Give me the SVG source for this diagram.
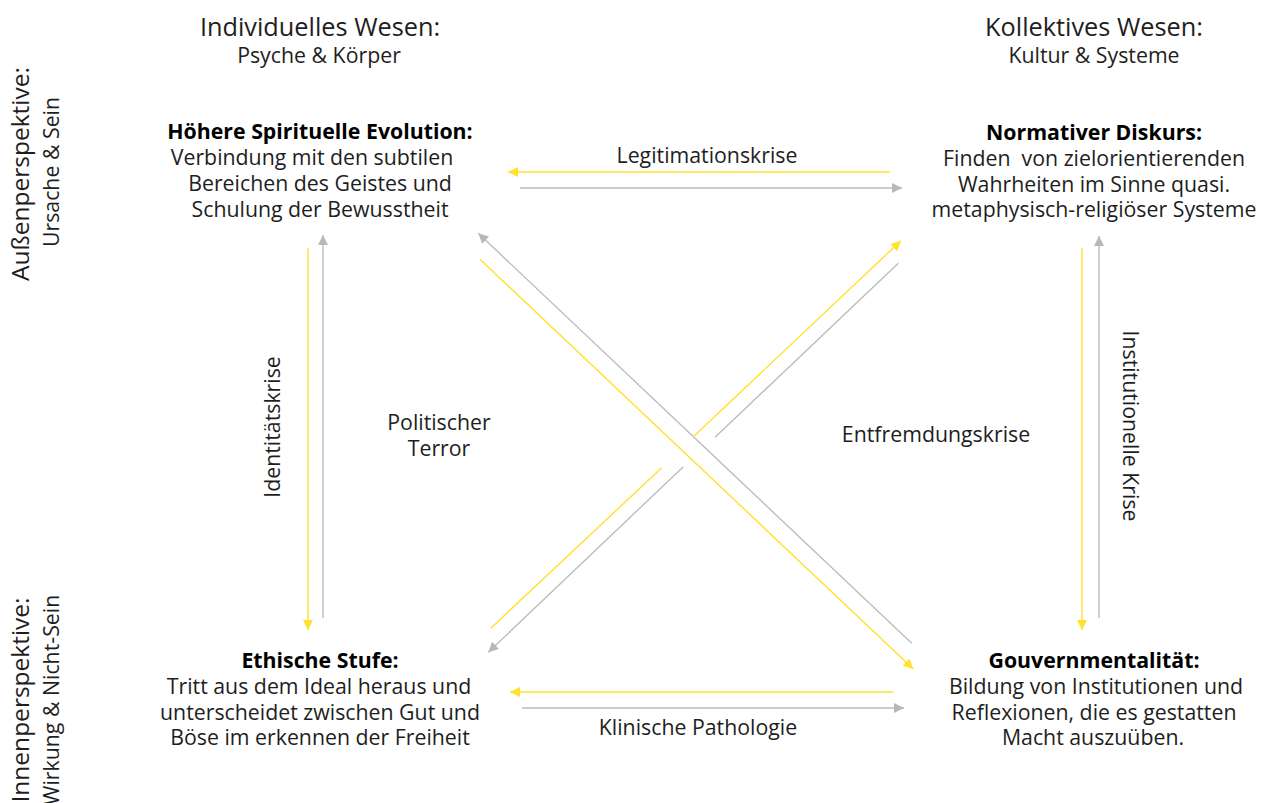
<svg xmlns="http://www.w3.org/2000/svg" width="1261" height="803" viewBox="0 0 1261 803">
<defs>
<style>
text{font-family:"Open Sans","Noto Sans","DejaVu Sans",sans-serif;fill:#1e1e1e;text-anchor:middle;white-space:pre}
.h1{font-size:25.3px}
.s1{font-size:24.5px}
.h2{font-size:21.3px}
.t{font-size:21.3px}
.b{font-weight:bold;fill:#000}
.y{stroke:#FFE12E;stroke-width:1.4;fill:none}
.g{stroke:#BDBDBD;stroke-width:1.4;fill:none}
.ya{marker-end:url(#ay)}
.ga{marker-end:url(#ag)}
</style>
<marker id="ay" viewBox="0 0 10 10" refX="10" refY="5" markerWidth="11" markerHeight="10" markerUnits="userSpaceOnUse" orient="auto"><path d="M0,0L10,5L0,10z" fill="#FFE12E"/></marker>
<marker id="ag" viewBox="0 0 10 10" refX="10" refY="5" markerWidth="11" markerHeight="10" markerUnits="userSpaceOnUse" orient="auto"><path d="M0,0L10,5L0,10z" fill="#B8B8B8"/></marker>
</defs>
<rect width="1261" height="803" fill="#fff"/>
<g id="headers">
<text class="h1" x="320" y="36">Individuelles Wesen:</text>
<text class="h2" x="319" y="63">Psyche &amp; Körper</text>
<text class="h1" x="1094" y="36">Kollektives Wesen:</text>
<text class="h2" x="1094" y="63">Kultur &amp; Systeme</text>
<text class="s1" transform="translate(29,174) rotate(-90)">Außenperspektive:</text>
<text class="h2" transform="translate(59,172) rotate(-90)">Ursache &amp; Sein</text>
<text class="s1" transform="translate(29,700) rotate(-90)">Innenperspektive:</text>
<text class="h2" transform="translate(59,700) rotate(-90)">Wirkung &amp; Nicht-Sein</text>
</g>
<g id="node-spirit">
<text class="t b" x="320" y="139">Höhere Spirituelle Evolution:</text>
<text class="t" x="312" y="165">Verbindung mit den subtilen</text>
<text class="t" x="320" y="191">Bereichen des Geistes und</text>
<text class="t" x="320" y="217">Schulung der Bewusstheit</text>
</g>
<g id="node-diskurs">
<text class="t b" x="1094" y="140">Normativer Diskurs:</text>
<text class="t" x="1094" y="166">Finden  von zielorientierenden</text>
<text class="t" x="1094" y="192">Wahrheiten im Sinne quasi.</text>
<text class="t" x="1094" y="217">metaphysisch-religiöser Systeme</text>
</g>
<g id="node-ethik">
<text class="t b" x="320" y="668">Ethische Stufe:</text>
<text class="t" x="319" y="694">Tritt aus dem Ideal heraus und</text>
<text class="t" x="320" y="720">unterscheidet zwischen Gut und</text>
<text class="t" x="320" y="745">Böse im erkennen der Freiheit</text>
</g>
<g id="node-gouv">
<text class="t b" x="1094" y="668">Gouvernmentalität:</text>
<text class="t" x="1096" y="694">Bildung von Institutionen und</text>
<text class="t" x="1094" y="720">Reflexionen, die es gestatten</text>
<text class="t" x="1093" y="745">Macht auszuüben.</text>
</g>
<g id="connectors">
<line class="y ya" x1="890" y1="172" x2="508" y2="172"/>
<line class="g ga" x1="520" y1="188" x2="902" y2="188"/>
<line class="y ya" x1="893" y1="692" x2="510" y2="692"/>
<line class="g ga" x1="522" y1="708" x2="904" y2="708"/>
<line class="y ya" x1="308" y1="248" x2="308" y2="630"/>
<line class="g ga" x1="323" y1="618" x2="323" y2="235"/>
<line class="y ya" x1="1082" y1="248" x2="1082" y2="630"/>
<line class="g ga" x1="1099" y1="618" x2="1099" y2="236"/>
<path class="y ya" d="M480,259.3L913.3,669"/>
<path class="g ga" d="M911.7,643.3L478.3,233.3"/>
<path class="y ya" d="M490.7,628.3L661.7,467.7M693.3,436.7L901,240.7"/>
<path class="g ga" d="M898.3,263.3L715,437.3M683.3,466.7L488.3,652.3"/>
</g>
<g id="edge-labels">
<text class="t" x="707" y="163">Legitimationskrise</text>
<text class="t" x="698" y="735">Klinische Pathologie</text>
<text class="t" x="439" y="430">Politischer</text>
<text class="t" x="439" y="456">Terror</text>
<text class="t" x="936" y="442">Entfremdungskrise</text>
<text class="t" transform="translate(280,427) rotate(-90)">Identitätskrise</text>
<text class="t" transform="translate(1123,426) rotate(90)">Institutionelle Krise</text>
</g>
</svg>
